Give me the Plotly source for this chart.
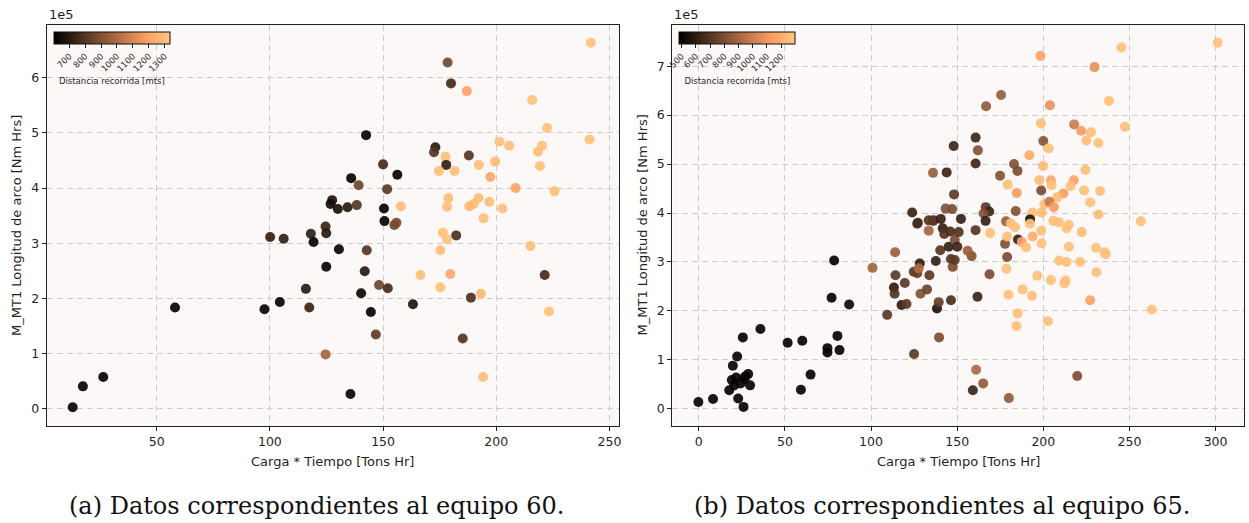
import numpy as np
import plotly.graph_objects as go

# ---------------- Data: equipo 60 ----------------
carga_60 = [12.9, 17.4, 26.4, 58.1, 97.6, 104.4, 100.1, 106.1, 115.9, 117.4,
            118.1, 119.3, 124.6, 124.9, 124.9, 124.6, 130.5, 142.8, 141.9, 140.3,
            148.2, 152.1, 144.6, 163.2, 146.8, 135.6, 150.6, 155.0, 155.9, 176.4,
            178.2, 182.3, 175.3, 215.1, 166.5, 179.7, 175.3, 188.8, 193.2, 221.4,
            223.3, 185.2, 194.2, 194.4, 241.8, 178.5, 180.0, 187.0, 215.9, 222.4,
            241.2, 201.4, 205.7, 220.2, 218.4, 219.3, 142.5, 173.1, 172.5, 177.6,
            187.9, 177.9, 174.7, 181.6, 192.3, 199.5, 197.4, 208.5, 225.7, 178.8,
            178.3, 192.2, 196.9, 188.1, 190.0, 202.7, 157.9, 156.3, 150.0, 151.8,
            150.4, 135.9, 139.2, 127.5, 126.8, 130.0, 134.3, 138.4]
longitud_60 = [0.02, 0.40, 0.57, 1.83, 1.80, 1.93, 3.11, 3.08, 2.17, 1.83,
               3.17, 3.02, 3.30, 3.18, 2.57, 0.98, 2.89, 2.87, 2.49, 2.09,
               2.24, 2.18, 1.75, 1.89, 1.34, 0.26, 3.40, 3.33, 3.37, 3.19,
               3.07, 3.14, 2.87, 2.95, 2.42, 2.44, 2.20, 2.01, 2.08, 2.42,
               1.76, 1.27, 0.57, 3.45, 6.64, 6.28, 5.90, 5.76, 5.60, 5.09,
               4.88, 4.84, 4.77, 4.77, 4.66, 4.40, 4.96, 4.74, 4.65, 4.57,
               4.59, 4.42, 4.31, 4.31, 4.42, 4.48, 4.20, 4.00, 3.94, 3.82,
               3.66, 3.82, 3.75, 3.67, 3.71, 3.63, 3.67, 4.24, 4.43, 3.98,
               3.63, 4.18, 4.05, 3.78, 3.71, 3.62, 3.65, 3.69]
distancia_60 = [620, 620, 620, 620, 620, 620, 720, 720, 700, 740,
                720, 620, 740, 700, 620, 980, 620, 800, 700, 630,
                860, 760, 620, 680, 820, 620, 620, 860, 880, 1310,
                1310, 780, 1300, 1300, 1300, 1220, 1300, 780, 1280, 760,
                1310, 800, 1300, 1300, 1320, 870, 760, 1200, 1310, 1310,
                1310, 1310, 1300, 1310, 1300, 1310, 620, 700, 800, 1300,
                800, 720, 1300, 1300, 1300, 1290, 1220, 1200, 1300, 1300,
                1300, 1300, 1300, 1280, 1290, 1300, 1300, 620, 760, 820,
                620, 620, 860, 680, 650, 660, 700, 800]

# ---------------- Data: equipo 65 ----------------
carga_65 = [-0.2, 8.3, 26.0, 22.9, 17.7, 20.6, 19.2, 21.7, 24.3, 26.6,
            28.7, 29.8, 26.9, 19.8, 22.3, 25.6, 35.8, 51.6, 60.1, 59.3,
            64.9, 74.7, 74.7, 80.5, 81.7, 77.1, 87.3, 78.6, 100.9, 109.4,
            114.0, 114.2, 113.3, 113.7, 119.6, 117.7, 120.6, 124.8, 126.8, 128.3,
            127.7, 128.7, 132.5, 133.9, 137.6, 140.2, 138.3, 139.3, 139.5, 125.0,
            146.4, 145.1, 146.4, 147.4, 126.8, 133.5, 136.0, 141.6, 142.5, 146.0,
            148.6, 148.6, 148.0, 136.0, 143.9, 148.2, 123.9, 127.2, 133.5, 136.4,
            140.5, 143.3, 147.0, 301.2, 245.4, 198.3, 229.7, 175.5, 166.8, 203.8,
            238.1, 247.4, 198.6, 217.9, 222.0, 227.7, 225.0, 232.0, 160.7, 162.0,
            160.7, 200.0, 203.1, 191.9, 183.0, 185.0, 174.9, 199.8, 224.5, 179.4,
            184.6, 197.7, 204.4, 204.8, 198.8, 217.7, 215.8, 223.7, 233.0, 211.6,
            208.1, 227.2, 200.6, 203.5, 206.1, 232.0, 256.6, 193.6, 199.0, 205.8,
            209.0, 214.8, 213.5, 222.3, 192.3, 192.3, 178.4, 181.1, 183.6, 169.1,
            184.0, 166.6, 168.6, 165.3, 166.5, 160.7, 152.2, 150.9, 193.8, 198.8,
            185.3, 187.5, 177.8, 190.0, 179.0, 199.0, 214.8, 230.6, 235.6, 236.2,
            209.2, 213.5, 221.4, 230.8, 196.5, 204.4, 212.3, 212.9, 188.0, 179.8,
            193.4, 227.2, 185.1, 184.4, 202.7, 263.0, 178.6, 179.0, 168.8, 158.4,
            156.1, 150.1, 161.8, 161.0, 165.1, 159.1, 180.0, 219.7]
longitud_65 = [0.14, 0.20, 0.04, 0.21, 0.38, 0.48, 0.59, 0.64, 0.52, 0.61,
               0.71, 0.48, 0.66, 0.88, 1.07, 1.46, 1.63, 1.35, 1.39, 0.39,
               0.70, 1.24, 1.15, 1.49, 1.20, 2.27, 2.13, 3.03, 2.88, 1.92,
               3.20, 2.73, 2.48, 2.35, 2.57, 2.12, 2.14, 2.80, 2.77, 2.97,
               2.87, 2.35, 2.44, 2.73, 3.02, 3.24, 2.05, 2.18, 1.46, 1.12,
               2.22, 3.31, 3.06, 2.90, 3.78, 3.64, 3.84, 3.69, 3.57, 3.62,
               3.45, 3.04, 5.37, 4.82, 4.83, 4.38, 4.01, 3.80, 3.85, 3.85,
               3.88, 4.09, 4.08, 7.48, 7.38, 7.21, 6.98, 6.41, 6.18, 6.20,
               6.29, 5.76, 5.83, 5.81, 5.68, 5.65, 5.48, 5.43, 5.54, 5.28,
               5.01, 5.47, 5.32, 5.18, 5.00, 4.86, 4.76, 4.96, 4.88, 4.58,
               4.41, 4.67, 4.67, 4.57, 4.46, 4.67, 4.55, 4.46, 4.45, 4.40,
               4.32, 4.22, 4.18, 4.23, 4.12, 3.97, 3.83, 4.01, 4.01, 3.84,
               3.81, 3.76, 3.69, 3.61, 3.87, 3.78, 3.83, 3.79, 3.71, 3.59,
               4.04, 4.12, 4.03, 3.99, 3.84, 3.65, 3.88, 3.61, 3.52, 3.64,
               3.46, 3.41, 3.37, 3.30, 3.52, 3.38, 3.31, 3.29, 3.20, 3.16,
               3.03, 3.00, 3.00, 2.79, 2.72, 2.63, 2.56, 2.62, 2.44, 2.33,
               2.31, 2.22, 1.95, 1.69, 1.79, 2.03, 2.86, 3.10, 2.75, 3.12,
               3.23, 3.31, 2.29, 0.80, 0.52, 0.38, 0.22, 0.67]
distancia_65 = [500, 500, 500, 500, 500, 500, 500, 500, 500, 500,
                500, 500, 500, 500, 500, 500, 500, 500, 500, 500,
                500, 500, 500, 500, 500, 500, 520, 500, 900, 720,
                880, 720, 600, 700, 720, 600, 720, 720, 740, 600,
                920, 820, 760, 720, 620, 700, 560, 740, 800, 720,
                680, 620, 700, 800, 700, 900, 640, 620, 700, 680,
                800, 720, 640, 880, 640, 720, 640, 660, 700, 720,
                620, 820, 800, 1270, 1270, 1150, 1080, 880, 860, 1080,
                1270, 1270, 1260, 1000, 1120, 1260, 1260, 1270, 640, 820,
                640, 840, 1270, 1180, 820, 800, 820, 1240, 1260, 1270,
                1120, 1260, 1160, 1270, 800, 1150, 1270, 1270, 1270, 1130,
                1260, 1270, 1260, 980, 1120, 1260, 1270, 1270, 1260, 1270,
                1270, 1270, 1270, 1260, 560, 1270, 880, 1270, 1270, 1270,
                820, 720, 640, 820, 620, 700, 620, 700, 1200, 1270,
                620, 1150, 820, 1270, 1270, 1270, 1270, 1270, 1270, 1270,
                1270, 1270, 1270, 1270, 1270, 1270, 1270, 1270, 1270, 1270,
                1270, 1150, 1270, 1270, 1270, 1270, 1270, 800, 800, 820,
                880, 640, 640, 920, 860, 640, 860, 800]

ticks_cb_60 = [700, 800, 900, 1000, 1100, 1200, 1300]
ticks_cb_65 = [500, 600, 700, 800, 900, 1000, 1100, 1200]
captions = ["(a) Datos correspondientes al equipo 60.",
            "(b) Datos correspondientes al equipo 65."]

# ---------------- Style ----------------
W, H = 1249, 523


def copper_scale(n=11):
    out = []
    for f in np.linspace(0, 1, n):
        r = min(1.0, 1.25 * f)
        g = 0.7812 * f
        b = 0.4975 * f
        out.append([float(f), f"rgb({int(r*255)},{int(g*255)},{int(b*255)})"])
    return out


cs = copper_scale()
txt = "#1f1f1f"
font = dict(family="DejaVu Sans", size=12.5, color=txt)

fig = go.Figure()
fig.add_trace(go.Scatter(x=carga_60, y=longitud_60, mode="markers",
                         marker=dict(size=10, color=distancia_60, coloraxis="coloraxis",
                                     opacity=0.92, line=dict(width=0)),
                         xaxis="x", yaxis="y", showlegend=False))
fig.add_trace(go.Scatter(x=carga_65, y=longitud_65, mode="markers",
                         marker=dict(size=10, color=distancia_65, coloraxis="coloraxis2",
                                     opacity=0.92, line=dict(width=0)),
                         xaxis="x2", yaxis="y2", showlegend=False))


def px_x(p):
    return p / W


def px_y(p):
    return 1 - p / H


axis_common = dict(showline=True, linecolor="#222222", linewidth=1.2, mirror=True,
                   ticks="outside", ticklen=4, tickcolor="#222222",
                   showgrid=True, gridcolor="#cccccc", griddash="6px,4px", gridwidth=1,
                   zeroline=False, tickfont=font)

cb_common = dict(orientation="h", lenmode="pixels", len=116, thickness=12,
                 xanchor="left", yanchor="top", xpad=0, ypad=0,
                 outlinewidth=1, outlinecolor="#111111",
                 ticks="outside", ticklen=4, tickcolor="#222222", tickangle=-45,
                 tickfont=dict(family="DejaVu Sans", size=8.5, color=txt),
                 title=dict(text="Distancia recorrida [mts]", side="bottom",
                            font=dict(family="DejaVu Sans", size=8.5, color=txt)))

fig.update_layout(
    width=W, height=H, margin=dict(l=0, r=0, t=0, b=0),
    paper_bgcolor="white", plot_bgcolor="#fcf8f8",
    xaxis=dict(domain=[px_x(47), px_x(620)], range=[1.5, 254],
               tickvals=[50, 100, 150, 200, 250], anchor="y", **axis_common),
    yaxis=dict(domain=[px_y(426), px_y(25)], range=[-0.32, 6.96],
               tickvals=[0, 1, 2, 3, 4, 5, 6], anchor="x", **axis_common),
    xaxis2=dict(domain=[px_x(674), px_x(1247)], range=[-15.3, 316.5],
                tickvals=[0, 50, 100, 150, 200, 250, 300], anchor="y2", **axis_common),
    yaxis2=dict(domain=[px_y(426), px_y(25)], range=[-0.35, 7.84],
                tickvals=[0, 1, 2, 3, 4, 5, 6, 7], anchor="x2", **axis_common),
    coloraxis=dict(colorscale=cs, cmin=603, cmax=1333, showscale=True,
                   colorbar=dict(x=px_x(54), y=px_y(32), tickvals=ticks_cb_60, **cb_common)),
    coloraxis2=dict(colorscale=cs, cmin=484, cmax=1300, showscale=True,
                    colorbar=dict(x=px_x(681), y=px_y(32), tickvals=ticks_cb_65, **cb_common)),
)

annots = [
    dict(text="1e5", x=px_x(47), y=px_y(15), xanchor="left", yanchor="middle",
         font=dict(family="DejaVu Sans", size=13, color=txt)),
    dict(text="1e5", x=px_x(674), y=px_y(15), xanchor="left", yanchor="middle",
         font=dict(family="DejaVu Sans", size=13, color=txt)),
    dict(text="Carga * Tiempo [Tons Hr]", x=px_x(333.5), y=px_y(461), xanchor="center",
         yanchor="middle", font=dict(family="DejaVu Sans", size=13, color=txt)),
    dict(text="Carga * Tiempo [Tons Hr]", x=px_x(961), y=px_y(461), xanchor="center",
         yanchor="middle", font=dict(family="DejaVu Sans", size=13, color=txt)),
    dict(text="M_MT1 Longitud de arco [Nm Hrs]", x=px_x(17), y=px_y(225), textangle=-90,
         xanchor="center", yanchor="middle", font=dict(family="DejaVu Sans", size=13, color=txt)),
    dict(text="M_MT1 Longitud de arco [Nm Hrs]", x=px_x(645), y=px_y(225), textangle=-90,
         xanchor="center", yanchor="middle", font=dict(family="DejaVu Sans", size=13, color=txt)),
    dict(text=captions[0], x=px_x(317), y=px_y(506), xanchor="center", yanchor="middle",
         font=dict(family="DejaVu Serif", size=24, color="#111111")),
    dict(text=captions[1], x=px_x(944), y=px_y(506), xanchor="center", yanchor="middle",
         font=dict(family="DejaVu Serif", size=24, color="#111111")),
]
for a in annots:
    a.update(xref="paper", yref="paper", showarrow=False)
fig.update_layout(annotations=annots)

fig.write_html("out.html")
